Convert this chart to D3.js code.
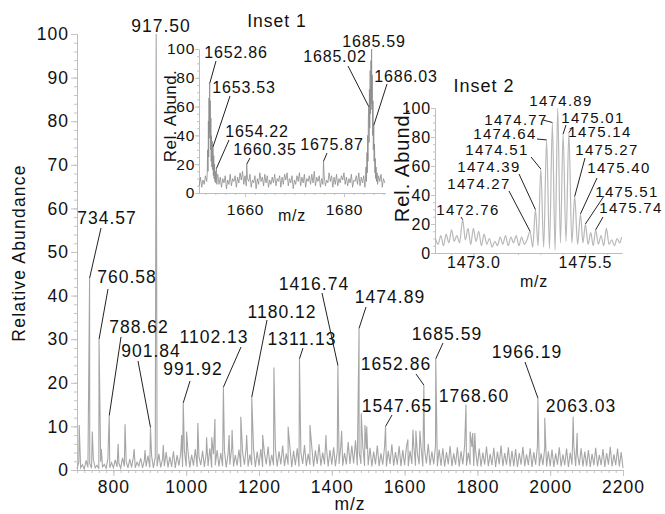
<!DOCTYPE html>
<html>
<head>
<meta charset="utf-8">
<script src="https://cdn.jsdelivr.net/npm/d3@7"></script>
<style>
body { margin: 0; background: #fff; }
svg text { font-family: "Liberation Sans", Arial, sans-serif; fill: #111; }
</style>
</head>
<body>
<div id="chart"></div>
<script>
var w = 665, h = 514;

// ---- main spectrum ----
var mainNoiseStart = 700, mainNoiseStep = 5;
var mainNoise = [
  0.3,1.8,0.5,1.2,0.2,2.2,0.6,1.5,0.4,2.4,0.5,1.1,0.3,1.9,0.7,1.3,0.4,2.6,0.5,1.7,
  0.5,2.3,0.7,1.6,0.4,2.8,0.8,2.0,0.5,2.5,0.6,3.1,0.5,1.8,0.9,2.7,0.5,2.2,0.8,3.3,
  0.6,3.2,0.5,2.9,0.8,3.7,0.6,2.5,0.9,4.1,0.6,3.0,0.7,4.3,0.5,3.4,1.0,3.9,0.7,4.5,
  0.8,4.2,0.6,3.5,1.0,4.8,0.7,3.1,1.1,4.4,0.7,3.8,0.9,5.0,0.6,3.6,1.1,4.6,0.8,3.9,
  0.9,4.5,0.6,3.7,1.2,5.1,0.8,3.4,1.0,4.7,0.7,4.0,1.2,5.3,0.8,3.6,1.1,4.9,0.7,4.2,
  1.0,4.8,0.7,3.9,1.3,5.4,0.9,3.5,1.1,5.0,0.8,4.3,1.3,5.6,0.9,3.8,1.2,5.2,0.7,4.4,
  1.1,5.0,0.8,4.1,1.4,5.7,0.9,3.7,1.2,5.3,0.8,4.5,1.4,5.9,1.0,4.0,1.3,5.5,0.8,4.6,
  1.2,5.2,0.9,4.3,1.4,5.8,1.0,3.9,1.3,6.4,1.4,5.6,1.5,6.8,1.1,4.2,1.4,5.7,0.9,4.8,
  1.1,5.1,0.8,4.2,1.3,5.6,0.9,3.8,1.2,5.4,0.8,4.4,1.4,5.9,1.0,4.1,1.2,5.5,0.9,4.6,
  1.1,5.3,0.9,4.4,1.4,5.8,1.0,4.0,1.3,5.5,0.8,4.6,1.5,6.0,1.1,4.2,1.3,5.6,0.9,4.7,
  1.0,5.0,0.8,4.1,1.3,5.5,0.9,3.8,1.2,5.2,0.8,4.3,1.3,5.7,1.0,4.0,1.2,5.3,0.9,4.5,
  0.9,4.9,0.8,4.0,1.2,5.4,0.9,3.7,1.1,5.1,0.7,4.2,1.3,5.6,0.9,3.9,1.2,5.2,0.8,4.4,
  0.9,4.8,0.7,3.9,1.2,5.3,0.9,3.6,1.1,5.0,0.7,4.1,1.2,5.5,0.9,3.8,1.1,5.1,0.8,4.3,
  0.9,4.7,0.7,3.8,1.2,5.2,0.8,3.6,1.1,4.9,0.7,4.0,1.2,5.4,0.9,3.7,1.1,5.0,0.8,4.2,
  0.9,4.6,0.7,3.7,1.1,5.1,0.8,3.5,1.1,4.8,0.7,3.9,1.2,5.3,0.8,3.6,1.1,4.9,0.8,4.1,
  0.5
];
var mainPeaks = [
  [706,10.3],[734.57,44],[742,8.8],[760.58,30],[767,4.8],[786,6],[788.62,12.5],[813,6],
  [832,10.5],[857,4.8],[887,4.6],[901.84,9.8],[917.5,100],[937,5.7],[987.5,8],[991.92,15.4],
  [1001,8.8],[1032,10.8],[1056,7.5],[1070,7.5],[1079,11.7],[1102.13,19],[1118,8],[1126,9.2],
  [1150,12.2],[1166,8],[1180.12,16.7],[1210,8],[1241,23.5],[1280,9.9],[1311.13,25.5],[1340,10.3],
  [1384,8],[1416.74,24],[1427,9],[1474.89,32.5],[1481,13],[1491,10.3],[1496,10],[1547.65,10],
  [1609,7],[1623,9.2],[1631,9],[1642,9],[1652.86,19.5],[1685.59,25.5],[1768.6,15],[1780,8.8],
  [1787,8.5],[1793,8.5],[1966.19,16.5],[1985,12],[2063.03,12.2],[2074,8.5]
];
var mainLabels = [917.5,734.57,760.58,788.62,901.84,991.92,1102.13,1180.12,1311.13,1416.74,
                  1474.89,1547.65,1652.86,1685.59,1768.6,1966.19,2063.03];
var mainXTicks = [800,1000,1200,1400,1600,1800,2000,2200];
var mainYTicks = [0,10,20,30,40,50,60,70,80,90,100];

// ---- inset 1 ----
var inset1NoiseStart = 1650.75, inset1NoiseStep = 0.25;
var inset1Noise = [
  5,11,4,9,6,12,8,14,9,13,7,12,5,10,8,13,6,11,4,10,
  7,12,3,9,6,13,5,10,8,12,4,11,7,14,9,15,6,12,5,10,
  8,13,4,9,7,12,3,10,6,14,8,11,5,13,7,12,4,9,6,11,
  7,13,5,10,8,12,4,11,6,13,9,14,5,10,7,12,3,9,6,12,
  8,14,5,11,7,13,4,10,8,12,6,13,7,15,5,11,8,12,4,10,
  6,12,5,9,7,14,8,12,4,11,6,13,5,10,7,12,9,14,6,11,
  5,10,7,13,4,9,8,12,6,14,5,11,7,12,4,10,8,13,6,12,
  7,11,5,9,6,12,8,13,4,10,7
];
var inset1Clusters = [[1652.3, 1654.45], [1684.3, 1686.85]];
var inset1Peaks = [
  [1652.35,12],[1652.45,30],[1652.52,15],[1652.6,50],[1652.66,25],[1652.72,66],[1652.78,38],
  [1652.86,76],[1652.92,42],[1652.98,64],[1653.04,30],[1653.1,52],[1653.16,22],[1653.22,40],
  [1653.3,18],[1653.38,36],[1653.45,16],[1653.53,32],[1653.6,12],[1653.68,26],[1653.76,10],
  [1653.84,20],[1653.92,8],[1654.0,15],[1654.08,7],[1654.15,13],[1654.22,17],[1654.3,6],[1654.4,12],
  [1660.35,20],[1675.87,22],
  [1684.35,10],[1684.45,18],[1684.55,8],[1684.65,28],[1684.72,14],[1684.8,40],[1684.86,22],
  [1684.94,52],[1685.02,60],[1685.08,35],[1685.15,72],[1685.22,45],[1685.3,85],[1685.38,55],
  [1685.46,92],[1685.52,62],[1685.59,100],[1685.66,58],[1685.72,82],[1685.8,40],[1685.87,64],
  [1685.94,30],[1686.03,47],[1686.1,22],[1686.18,34],[1686.26,14],[1686.34,24],[1686.42,10],
  [1686.5,18],[1686.6,8],[1686.7,14],[1686.8,6]
];
var inset1Labels = [1652.86,1653.53,1654.22,1660.35,1675.87,1685.02,1685.59,1686.03];
var inset1XTicks = [1660,1680];
var inset1YTicks = [0,20,40,60,80,100];

// ---- inset 2 ----
var inset2Profile = [
  [1472.15,10],[1472.21,6],[1472.27,12],[1472.33,5],[1472.39,13],[1472.45,7],[1472.51,16],
  [1472.57,8],[1472.63,12],[1472.69,7],[1472.76,23],[1472.82,9],[1472.88,17],[1472.94,6],
  [1473.0,17],[1473.06,8],[1473.12,15],[1473.18,5],[1473.24,13],[1473.3,6],[1473.36,10],
  [1473.42,4],[1473.48,8],[1473.54,5],[1473.6,11],[1473.66,6],[1473.72,12],[1473.78,5],
  [1473.84,11],[1473.9,7],[1473.96,12],[1474.02,5],[1474.08,11],[1474.14,6],[1474.2,9],
  [1474.27,15],[1474.33,4],[1474.39,30],[1474.45,5],[1474.51,58],[1474.575,4],[1474.64,78],
  [1474.705,3],[1474.77,90],[1474.83,2],[1474.89,100],[1474.95,7],[1475.01,82],[1475.075,8],
  [1475.14,83],[1475.205,7],[1475.27,39],[1475.335,6],[1475.40,27],[1475.455,7],[1475.51,20],
  [1475.57,6],[1475.63,14],[1475.685,5],[1475.74,16],[1475.8,6],[1475.86,12],[1475.92,5],
  [1475.98,17],[1476.04,6],[1476.1,9],[1476.16,5],[1476.22,10],[1476.28,7],[1476.32,11]
];
var inset2Labels = [1472.76,1474.27,1474.39,1474.51,1474.64,1474.77,1474.89,1475.01,1475.14,
                    1475.27,1475.40,1475.51,1475.74];
var inset2XTicks = [1473.0,1475.5];
var inset2YTicks = [0,20,40,60,80,100];

// label placement: [text centre x, baseline y, leader start x, leader start y]
var labelLayout = {
  main: {
    "917.50":[161,32], "734.57":[107,224,101,228], "760.58":[127,283,108,289],
    "788.62":[139,333,121,337], "901.84":[151,357,138,361], "991.92":[193,375,190,381],
    "1102.13":[214,343,241,347], "1180.12":[282,318,267,320], "1311.13":[302,345,303,348],
    "1416.74":[314,290,322,293], "1474.89":[390,303,366,307], "1547.65":[397,412,392,415],
    "1652.86":[396,370,416,374], "1685.59":[447,340,443,343], "1768.60":[474,402],
    "1966.19":[527,358,525,362], "2063.03":[581,412]
  },
  inset1: {
    "1652.86":[236,58,216,61], "1653.53":[244,93,230,96], "1654.22":[257,137,229,140],
    "1660.35":[265,155,250,158], "1675.87":[332,150,327,153], "1685.02":[335,62,348,66],
    "1685.59":[374,47], "1686.03":[406,82,387,84]
  },
  inset2: {
    "1472.76":[468,215,461,217], "1474.27":[479,189,509,191], "1474.39":[489,172,519,174],
    "1474.51":[497,155,531,157], "1474.64":[505,139,537,139], "1474.77":[516,125,543,120],
    "1474.89":[561,106], "1475.01":[593,123,566,125], "1475.14":[600,137,572,128],
    "1475.27":[607,155,585,158], "1475.40":[619,173,597,178], "1475.51":[627,197,604,196],
    "1475.74":[631,213,603,217]
  }
};

var svg = d3.select("#chart").append("svg")
    .attr("width", w)
    .attr("height", h);

var fmt2 = d3.format(".2f");

function buildTrace(start, step, noise, peaks, skip) {
  var pts = noise.map(function(v, i) { return [start + i * step, v]; })
    .filter(function(p) {
      return !skip.some(function(r) { return p[0] >= r[0] && p[0] <= r[1]; });
    });
  return pts.concat(peaks).sort(function(a, b) { return a[0] - b[0]; });
}

function drawAxes(x, y, c) {
  var x0 = y.range()[0], y0 = x.range()[0];
  var gxm = svg.append("g").attr("transform", "translate(0," + x0 + ")")
    .call(d3.axisBottom(x).tickValues(c.xMinor).tickSize(c.minor).tickSizeOuter(0).tickFormat(""));
  var gx = svg.append("g").attr("transform", "translate(0," + x0 + ")")
    .call(d3.axisBottom(x).tickValues(c.xTicks).tickSize(c.major).tickSizeOuter(0).tickFormat(c.xFmt));
  var gym = svg.append("g").attr("transform", "translate(" + y0 + ",0)")
    .call(d3.axisLeft(y).tickValues(c.yMinor).tickSize(c.minor).tickSizeOuter(0).tickFormat(""));
  var gy = svg.append("g").attr("transform", "translate(" + y0 + ",0)")
    .call(d3.axisLeft(y).tickValues(c.yTicks).tickSize(c.major).tickSizeOuter(0));
  [gxm, gx, gym, gy].forEach(function(g) {
    g.select(".domain").attr("stroke", "#bdbdbd");
    g.selectAll(".tick line").attr("stroke", "#c4c4c4");
  });
  gx.selectAll("text").attr("y", c.xLabelY).attr("dy", null)
    .attr("font-size", c.font).attr("letter-spacing", c.ls);
  gy.selectAll("text").attr("x", c.yLabelX)
    .attr("font-size", c.font).attr("letter-spacing", c.ls);
  svg.selectAll(".tick text").attr("fill", "#111").attr("font-family", null);
}

function drawLabels(x, y, peaks, labels, layout, font, ls) {
  labels.forEach(function(mz) {
    var key = fmt2(mz);
    var p = peaks.find(function(d) { return Math.abs(d[0] - mz) < 1e-6; });
    var L = layout[key];
    svg.append("text")
      .attr("x", L[0]).attr("y", L[1])
      .attr("text-anchor", "middle")
      .attr("font-size", font)
      .attr("letter-spacing", ls)
      .text(key);
    if (L.length > 2 && p) {
      svg.append("line")
        .attr("x1", L[2]).attr("y1", L[3])
        .attr("x2", x(p[0])).attr("y2", y(p[1]))
        .attr("stroke", "#222")
        .attr("stroke-width", 1);
    }
  });
}

// ---------- main ----------
var x = d3.scaleLinear().domain([700, 2200]).range([77, 623]);
var y = d3.scaleLinear().domain([0, 100]).range([470, 34]);
var mainTrace = buildTrace(mainNoiseStart, mainNoiseStep, mainNoise, mainPeaks, []);

drawAxes(x, y, {
  xTicks: mainXTicks, xMinor: d3.range(700, 2201, 20),
  yTicks: mainYTicks, yMinor: d3.range(0, 101, 2),
  major: 6, minor: 3, xFmt: d3.format("d"),
  xLabelY: 23, yLabelX: -8, font: "17.5px", ls: 1
});

svg.append("path")
  .datum(mainTrace)
  .attr("fill", "none")
  .attr("stroke", "#a6a6a6")
  .attr("stroke-width", 1.1)
  .attr("d", d3.line().x(function(d) { return x(d[0]); }).y(function(d) { return y(d[1]); }));

drawLabels(x, y, mainPeaks, mainLabels, labelLayout.main, "17.5px", 1);

svg.append("text")
  .attr("transform", "translate(25,253) rotate(-90)")
  .attr("text-anchor", "middle").attr("font-size", "17.5px").attr("letter-spacing", 1.2)
  .text("Relative Abundance");
svg.append("text")
  .attr("x", 350).attr("y", 510)
  .attr("text-anchor", "middle").attr("font-size", "17.5px").attr("letter-spacing", 1)
  .text("m/z");

// ---------- inset 1 ----------
var x1 = d3.scaleLinear().domain([1650.7, 1688.3]).range([199, 385]);
var y1 = d3.scaleLinear().domain([0, 100]).range([193, 49]);
var inset1Trace = buildTrace(inset1NoiseStart, inset1NoiseStep, inset1Noise, inset1Peaks, inset1Clusters);

drawAxes(x1, y1, {
  xTicks: inset1XTicks, xMinor: d3.range(1652, 1689, 2),
  yTicks: inset1YTicks, yMinor: d3.range(0, 101, 5),
  major: 4, minor: 2, xFmt: d3.format("d"),
  xLabelY: 22, yLabelX: -4, font: "15.5px", ls: 0.7
});

svg.append("path")
  .datum(inset1Trace)
  .attr("fill", "none")
  .attr("stroke", "#8c8c8c")
  .attr("stroke-width", 0.8)
  .attr("d", d3.line().x(function(d) { return x1(d[0]); }).y(function(d) { return y1(d[1]); }));

drawLabels(x1, y1, inset1Peaks, inset1Labels, labelLayout.inset1, "16px", 0.8);

svg.append("text")
  .attr("x", 277).attr("y", 27)
  .attr("text-anchor", "middle").attr("font-size", "17.5px").attr("letter-spacing", 1)
  .text("Inset 1");
svg.append("text")
  .attr("transform", "translate(176,116) rotate(-90)")
  .attr("text-anchor", "middle").attr("font-size", "17px").attr("letter-spacing", 0.4)
  .text("Rel. Abund.");
svg.append("text")
  .attr("x", 292).attr("y", 221)
  .attr("text-anchor", "middle").attr("font-size", "16px").attr("letter-spacing", 0.8)
  .text("m/z");

// ---------- inset 2 ----------
var x2 = d3.scaleLinear().domain([1472.14, 1476.33]).range([435, 622]);
var y2 = d3.scaleLinear().domain([0, 100]).range([253, 108]);

drawAxes(x2, y2, {
  xTicks: inset2XTicks, xMinor: d3.range(1472.5, 1476.31, 0.5),
  yTicks: inset2YTicks, yMinor: d3.range(0, 101, 5),
  major: 4, minor: 2, xFmt: d3.format(".1f"),
  xLabelY: 15, yLabelX: -4, font: "16px", ls: 0.8
});

svg.append("path")
  .datum(inset2Profile)
  .attr("fill", "none")
  .attr("stroke", "#b8b8b8")
  .attr("stroke-width", 1.2)
  .attr("d", d3.line().curve(d3.curveMonotoneX)
    .x(function(d) { return x2(d[0]); }).y(function(d) { return y2(d[1]); }));

drawLabels(x2, y2, inset2Profile, inset2Labels, labelLayout.inset2, "15px", 1.3);

svg.append("text")
  .attr("x", 484).attr("y", 92)
  .attr("text-anchor", "middle").attr("font-size", "18px").attr("letter-spacing", 1)
  .text("Inset 2");
svg.append("text")
  .attr("transform", "translate(409,165) rotate(-90)")
  .attr("text-anchor", "middle").attr("font-size", "20px").attr("letter-spacing", 1)
  .text("Rel. Abund.");
svg.append("text")
  .attr("x", 534).attr("y", 287)
  .attr("text-anchor", "middle").attr("font-size", "16px").attr("letter-spacing", 0.8)
  .text("m/z");
</script>
</body>
</html>
